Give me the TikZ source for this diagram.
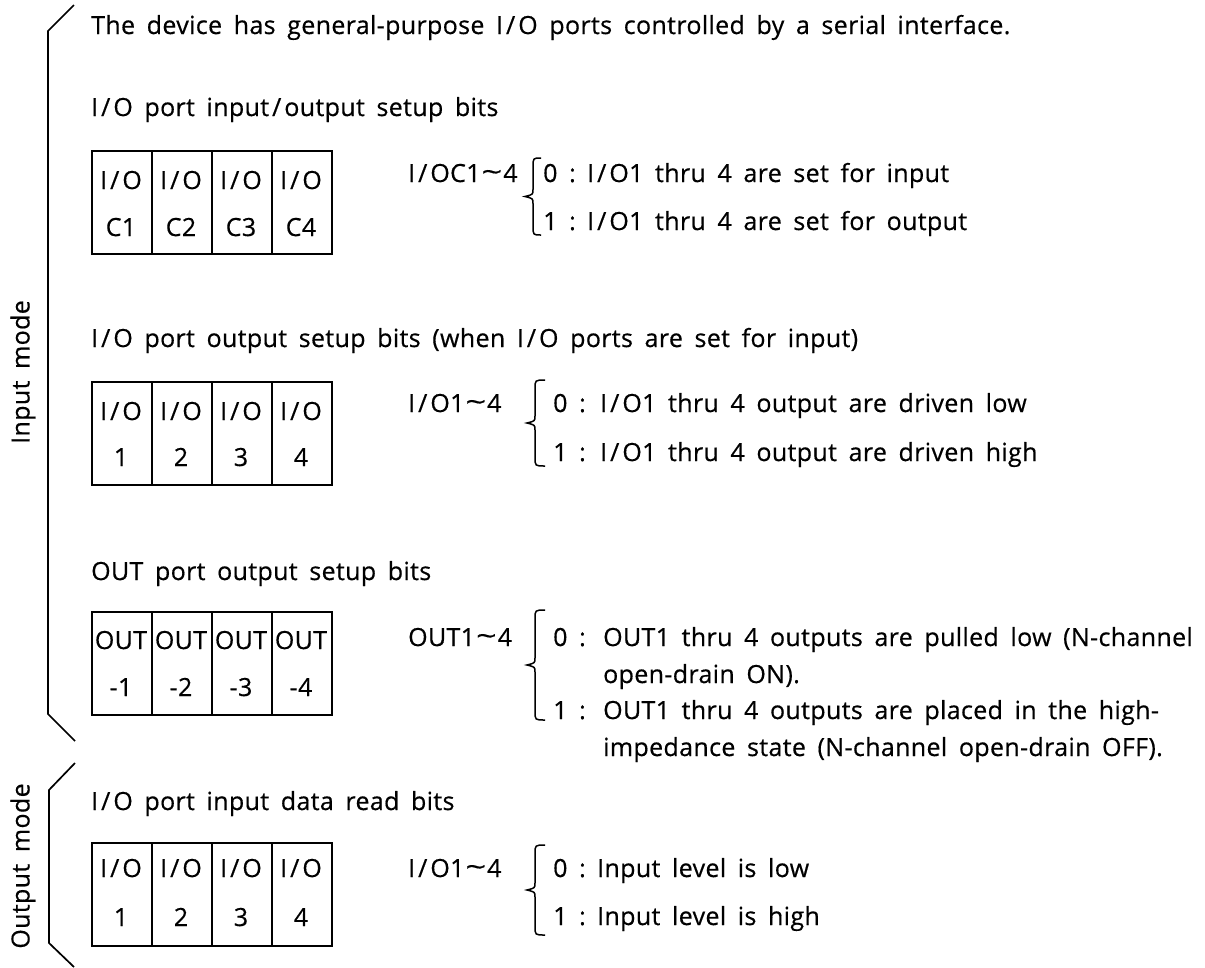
\documentclass[tikz,border=0pt]{standalone}
\usepackage{fontspec}
\usepackage{graphicx}
\setmainfont{Open Sans}[WordSpace=1.7,LetterSpace=1.4,FakeBold=0.5]
\newcommand\slh{\kern3pt/\kern3pt}
\newcommand\IO{I\slh O}
\newcommand\wave{\kern1pt\raisebox{0.5pt}{\scalebox{1.45}[1.1]{\textasciitilde}}\kern1pt}
\newcommand\mybrace[5]{% cusp x, vertical x, end x, top y, bottom y
  \draw[brc] (#3,#4) .. controls (#2,#4) .. (#2,{#4+9}) -- (#2,{(#4+#5)/2-7})
    .. controls (#2,{(#4+#5)/2-2}) .. (#1,{(#4+#5)/2})
    .. controls (#2,{(#4+#5)/2+2}) .. (#2,{(#4+#5)/2+7}) -- (#2,{#5-9})
    .. controls (#2,#5) .. (#3,#5);}
\begin{document}
\begin{tikzpicture}[x=1pt,y=-1pt,font=\fontsize{25}{30}\selectfont,
  txt/.style={anchor=base west,inner sep=0pt},
  cell/.style={draw,line width=1.7pt,minimum width=60pt,minimum height=103pt,inner sep=0pt,anchor=north west},
  ctxt/.style={anchor=base,inner sep=0pt},
  bracket/.style={line width=1.7pt},
  brc/.style={line width=1.5pt}]
\useasboundingbox (0,0) rectangle (1205,967);

% left brackets
\coordinate (ib1) at (74,5);
\coordinate (ib2) at (48,31);
\coordinate (ib3) at (48,714);
\coordinate (ib4) at (75,741);
\draw[bracket] (ib1) -- (ib2) -- (ib3) -- (ib4);
\coordinate (ob1) at (75,763);
\coordinate (ob2) at (49,790);
\coordinate (ob3) at (49,943);
\coordinate (ob4) at (74,967);
\draw[bracket] (ob1) -- (ob2) -- (ob3) -- (ob4);
\node[rotate=90,inner sep=0pt] (inmode) at (23,372) {Input mode};
\node[rotate=90,inner sep=0pt] (outmode) at (23,866) {Output mode};

% titles
\node[txt] (title0) at (91,34) {The device has general-purpose \IO\ ports controlled by a serial interface.};
\node[txt] (title1) at (91,116) {\IO\ port input\slh output setup bits};
\node[txt] (title2) at (91,347) {\IO\ port output setup bits (when \IO\ ports are set for input)};
\node[txt] (title3) at (91,580) {OUT port output setup bits};
\node[txt] (title4) at (91,810) {\IO\ port input data read bits};

% tables
\foreach \i [evaluate=\i as \n using int(\i+1)] in {0,...,3}{
  \node[cell] (ta\i) at ({91+60*\i},150) {};
  \node[ctxt] (taa\i) at ({121+60*\i},189) {\IO};
  \node[ctxt] (tab\i) at ({121+60*\i},236) {C\n};
  \node[cell] (tb\i) at ({91+60*\i},381) {};
  \node[ctxt] (tba\i) at ({121+60*\i},420) {\IO};
  \node[ctxt] (tbb\i) at ({121+60*\i},466) {\n};
  \node[cell] (tc\i) at ({91+60*\i},611) {};
  \node[ctxt] (tca\i) at ({121+60*\i},649) {OUT};
  \node[ctxt] (tcb\i) at ({121+60*\i},696) {-\n};
  \node[cell] (td\i) at ({91+60*\i},842) {};
  \node[ctxt] (tda\i) at ({121+60*\i},877) {\IO};
  \node[ctxt] (tdb\i) at ({121+60*\i},926) {\n};
}

% descriptions 1
\node[txt] (la) at (408,182) {I\slh OC1\wave4};
\mybrace{525}{533}{541}{158}{235}
\node[txt] (la0) at (543,182) {0 :};
\node[txt] (la0t) at (587,182) {\IO1 thru 4 are set for input};
\node[txt] (la1) at (543,230) {1 :};
\node[txt] (la1t) at (587,230) {\IO1 thru 4 are set for output};

% descriptions 2
\node[txt] (lb) at (408,412) {\IO1\wave4};
\mybrace{527}{535}{545}{380}{466}
\node[txt] (lb0) at (553,412) {0 :};
\node[txt] (lb0t) at (600,412) {\IO1 thru 4 output are driven low};
\node[txt] (lb1) at (553,461) {1 :};
\node[txt] (lb1t) at (600,461) {\IO1 thru 4 output are driven high};

% descriptions 3
\node[txt] (lc) at (408,646) {OUT1\wave4};
\mybrace{527}{535}{545}{610}{720}
\node[txt] (lc0) at (553,646) {0 :};
\node[txt] (lc0t) at (603,646) {OUT1 thru 4 outputs are pulled low (N-channel};
\node[txt] (lc0u) at (603,683) {open-drain ON).};
\node[txt] (lc1) at (553,719) {1 :};
\node[txt] (lc1t) at (603,719) {OUT1 thru 4 outputs are placed in the high-};
\node[txt] (lc1u) at (603,756) {impedance state (N-channel open-drain OFF).};

% descriptions 4
\node[txt] (ld) at (408,877) {\IO1\wave4};
\mybrace{527}{535}{545}{845}{935}
\node[txt] (ld0) at (553,877) {0 :};
\node[txt] (ld0t) at (597,877) {Input level is low};
\node[txt] (ld1) at (553,925) {1 :};
\node[txt] (ld1t) at (597,925) {Input level is high};
\end{tikzpicture}
\end{document}
